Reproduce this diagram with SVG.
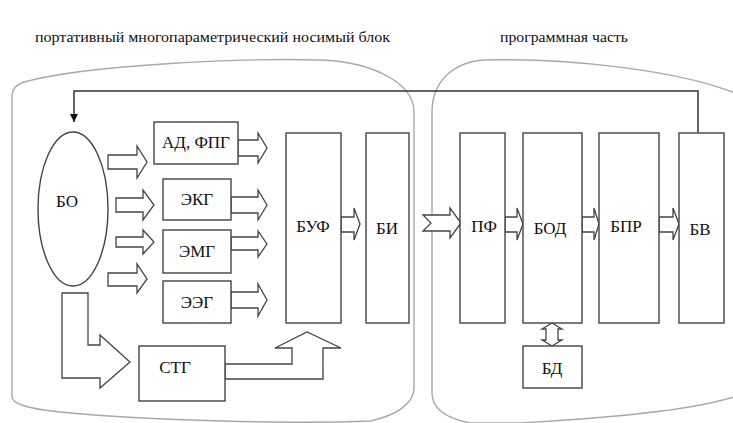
<svg xmlns="http://www.w3.org/2000/svg" width="733" height="423" viewBox="0 0 733 423">
<defs>
<style>
.region{fill:none;stroke:#a8a8a8;stroke-width:1.4}
.box{fill:#fff;stroke:#444;stroke-width:1.4}
.arr{fill:#fff;stroke:#444;stroke-width:1.3;stroke-linejoin:miter}
.line{fill:none;stroke:#333;stroke-width:1.5}
.t{font-family:'Liberation Serif','Times New Roman','DejaVu Serif',serif;fill:#111;text-anchor:middle}
.lbl{font-size:17px}
.title{font-size:15px;text-anchor:start}
.dv{font-family:'DejaVu Serif',serif}
</style>
<marker id="ah" markerWidth="8" markerHeight="10" refX="8" refY="5" orient="auto" markerUnits="userSpaceOnUse">
<path d="M0,1 L8,5 L0,9 Z" fill="#111"/>
</marker>
</defs>
<rect width="733" height="423" fill="#fff"/>
<text class="t title" x="35" y="42" textLength="355" lengthAdjust="spacingAndGlyphs">портативный многопараметрический носимый блок</text>
<text class="t title" x="500" y="42" textLength="128" lengthAdjust="spacingAndGlyphs">программная часть</text>
<g id="region-wearable">
<path class="region" d="M12,96 Q12,86 24,82 C90,64 250,58 320,60 C375,62 414,84 414,112 V388 C414,404 395,416 370,421 C300,424 150,421 60,412 C25,408 12,404 12,396 Z"/>
</g>
<g id="region-software">
<path class="region" d="M432,112 C432,80 455,62 484,60 C570,58 680,70 740,95 L740,395 C700,408 640,416 520,423 L470,423 C445,418 432,408 432,393 Z"/>
</g>
<g id="connectors">
<path class="line" d="M698,133 V91 H74 V122" marker-end="url(#ah)"/>
<path class="arr" d="M108,155 H137 V146 L147,162 L137,178 V169 H108 Z"/>
<path class="arr" d="M116,198 H143 V190 L154,205 L143,220 V212 H116 Z"/>
<path class="arr" d="M116,237 H143 V230 L154,242 L143,254 V247 H116 Z"/>
<path class="arr" d="M108,273 H137 V264 L147,279 L137,293 V286 H108 Z"/>
<path class="arr" d="M238,140 H258 V133 L267,148 L258,163 V156 H238 Z"/>
<path class="arr" d="M231,197 H258 V190 L267,205 L258,220 V213 H231 Z"/>
<path class="arr" d="M231,237 H258 V231 L267,244 L258,257 V250 H231 Z"/>
<path class="arr" d="M231,292 H258 V284 L267,300 L258,316 V308 H231 Z"/>
<path class="arr" d="M62,293 H88 V345 H100 V335 L130,362 L100,388 V378 H62 Z"/>
<path class="arr" d="M225,364 H292 V348 H275 L307,332 L341,348 H323 V379 H225 Z"/>
<path class="arr" d="M341,217 H354 V208 L360,224 L354,240 V232 H341 Z"/>
<path class="arr" d="M423,215 H450 V208 L461,223 L450,238 V231 H423 L431,223 Z"/>
<path class="arr" d="M505,217 H517 V208 L523,224 L517,240 V232 H505 Z"/>
<path class="arr" d="M582,217 H594 V208 L599,224 L594,240 V232 H582 Z"/>
<path class="arr" d="M659,217 H673 V208 L679,224 L673,240 V232 H659 Z"/>
<path class="arr" d="M552,323 L562,329 H558 V340 H562 L552,346 L542,340 H546 V329 H542 Z"/>
</g>
<g id="BO"><ellipse class="box" cx="73" cy="209" rx="35" ry="77"/><text class="t lbl" x="67" y="207">БО</text></g>
<g id="AD"><rect class="box" x="154" y="122" width="84" height="42"/><text class="t lbl" x="196" y="148">АД, ФПГ</text></g>
<g id="EKG"><rect class="box" x="163" y="179" width="68" height="41"/><text class="t lbl" x="197" y="205">ЭКГ</text></g>
<g id="EMG"><rect class="box" x="163" y="230" width="68" height="43"/><text class="t lbl" x="197" y="257">ЭМГ</text></g>
<g id="EEG"><rect class="box" x="163" y="281" width="68" height="42"/><text class="t lbl" x="197" y="308">ЭЭГ</text></g>
<g id="STG"><rect class="box" x="139" y="346" width="86" height="55"/><text class="t lbl" x="175" y="373">СТГ</text></g>
<g id="BUF"><rect class="box" x="286" y="133" width="55" height="190"/><text class="t lbl" x="313" y="232">БУФ</text></g>
<g id="BI"><rect class="box" x="366" y="133" width="43" height="190"/><text class="t lbl" x="387" y="234">БИ</text></g>
<g id="PF"><rect class="box" x="460" y="133" width="45" height="190"/><text class="t lbl" x="484" y="232">ПФ</text></g>
<g id="BOD"><rect class="box" x="523" y="133" width="59" height="190"/><text class="t lbl" x="550" y="234">БОД</text></g>
<g id="BPR"><rect class="box" x="599" y="133" width="60" height="190"/><text class="t lbl" x="626" y="232">БПР</text></g>
<g id="BV"><rect class="box" x="679" y="133" width="45" height="190"/><text class="t lbl" x="700" y="235">БВ</text></g>
<g id="BD"><rect class="box" x="523" y="346" width="59" height="42"/><text class="t lbl" x="552" y="374">БД</text></g>
</svg>
